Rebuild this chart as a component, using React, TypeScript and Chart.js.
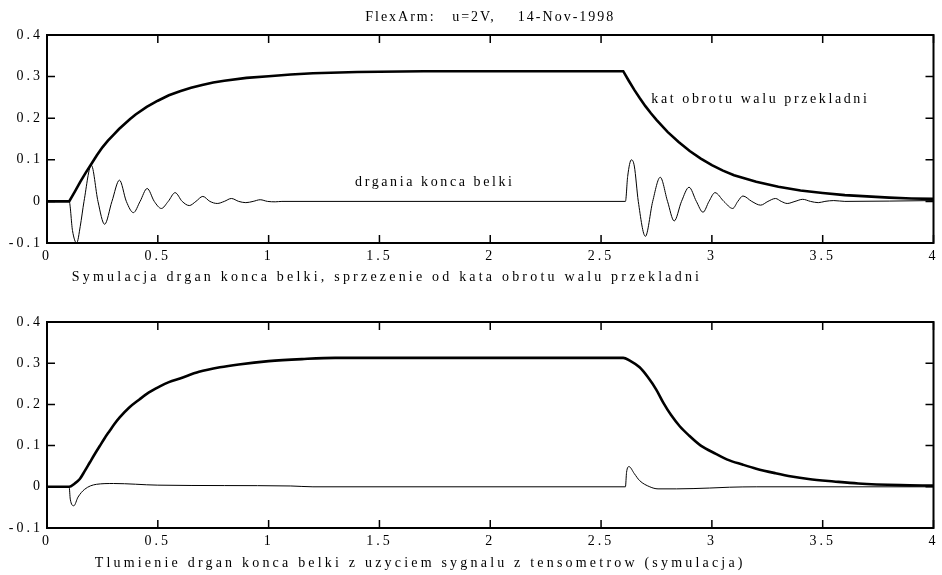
import React, { useEffect, useRef } from 'react';
import { Chart, registerables } from 'chart.js';

Chart.register(...registerables);

// ---- texts ----
const TITLE = 'FlexArm:   u=2V,    14-Nov-1998';
const X_TITLE_TOP = 'Symulacja drgan konca belki, sprzezenie od kata obrotu walu przekladni';
const X_TITLE_BOTTOM = 'Tlumienie drgan konca belki z uzyciem sygnalu z tensometrow (symulacja)';
const LABEL_ANGLE = 'kat obrotu walu przekladni';
const LABEL_VIB = 'drgania konca belki';

// ---- tick values ----
const X_TICKS = [0, 0.5, 1, 1.5, 2, 2.5, 3, 3.5, 4];
const Y_TICKS = [-0.1, 0, 0.1, 0.2, 0.3, 0.4];

// ---- top plot: shaft angle (thick) ----
const topAngleT = [0, 0.1, 0.125, 0.15, 0.175, 0.2, 0.225, 0.25, 0.275, 0.3, 0.325, 0.35, 0.375, 0.4, 0.45, 0.5, 0.55, 0.6, 0.65, 0.7, 0.75, 0.8, 0.9, 1.0, 1.1, 1.2, 1.4, 1.7, 2.6, 2.625, 2.65, 2.675, 2.7, 2.725, 2.75, 2.8, 2.85, 2.9, 2.95, 3.0, 3.05, 3.1, 3.2, 3.3, 3.4, 3.5, 3.6, 3.7, 3.8, 3.9, 4.0];
const topAngleV = [0, 0, 0.023, 0.047, 0.069, 0.09, 0.111, 0.13, 0.146, 0.16, 0.174, 0.186, 0.198, 0.209, 0.227, 0.242, 0.255, 0.265, 0.273, 0.28, 0.286, 0.29, 0.297, 0.301, 0.305, 0.308, 0.311, 0.313, 0.313, 0.29, 0.268, 0.248, 0.229, 0.212, 0.196, 0.167, 0.143, 0.121, 0.103, 0.087, 0.074, 0.063, 0.047, 0.035, 0.026, 0.02, 0.015, 0.012, 0.009, 0.007, 0.006];

// ---- top plot: beam tip vibration (thin) ----
const topVibT = [0, 0.1, 0.115, 0.134, 0.15, 0.167, 0.2, 0.23, 0.26, 0.293, 0.327, 0.358, 0.39, 0.42, 0.452, 0.484, 0.516, 0.547, 0.578, 0.61, 0.642, 0.672, 0.703, 0.735, 0.768, 0.8, 0.832, 0.865, 0.897, 0.93, 0.962, 0.995, 1.03, 1.06, 2.61, 2.62, 2.637, 2.65, 2.668, 2.7, 2.733, 2.767, 2.8, 2.83, 2.863, 2.897, 2.93, 2.96, 2.987, 3.014, 3.054, 3.094, 3.117, 3.14, 3.18, 3.22, 3.253, 3.287, 3.313, 3.34, 3.375, 3.41, 3.445, 3.48, 3.51, 3.55, 3.6, 4.0];
const topVibV = [0, 0, -0.07, -0.1, -0.06, 0, 0.087, 0, -0.055, 0, 0.051, 0, -0.027, 0, 0.031, 0, -0.017, 0, 0.021, 0, -0.01, 0, 0.012, 0, -0.005, 0, 0.007, 0, -0.003, 0, 0.004, 0, -0.001, 0, 0, 0.06, 0.1, 0.085, 0, -0.084, 0, 0.058, 0, -0.047, 0, 0.034, 0, -0.026, 0, 0.021, 0, -0.017, 0, 0.013, 0, -0.009, 0, 0.007, 0, -0.005, 0, 0.005, 0, -0.003, 0, 0.002, 0, 0.002];

// ---- bottom plot: shaft angle (thick) ----
const botAngleT = [0, 0.1, 0.125, 0.148, 0.17, 0.193, 0.215, 0.238, 0.26, 0.283, 0.305, 0.327, 0.37, 0.417, 0.46, 0.507, 0.55, 0.6, 0.686, 0.78, 0.865, 1.0, 1.15, 1.3, 2.6, 2.63, 2.674, 2.71, 2.749, 2.78, 2.816, 2.855, 2.898, 2.95, 3.018, 3.07, 3.138, 3.2, 3.287, 3.36, 3.436, 3.55, 3.66, 3.85, 4.0];
const botAngleV = [0, 0, 0.008, 0.019, 0.038, 0.059, 0.079, 0.099, 0.118, 0.136, 0.153, 0.168, 0.192, 0.212, 0.229, 0.243, 0.254, 0.263, 0.279, 0.29, 0.297, 0.305, 0.31, 0.313, 0.313, 0.306, 0.29, 0.267, 0.236, 0.205, 0.174, 0.147, 0.124, 0.1, 0.08, 0.066, 0.054, 0.044, 0.033, 0.025, 0.019, 0.013, 0.008, 0.004, 0.003];

// ---- bottom plot: damped beam tip vibration (thin) ----
const botVibT = [0, 0.1, 0.105, 0.121, 0.14, 0.17, 0.223, 0.3, 0.5, 0.8, 1.1, 1.2, 2.61, 2.615, 2.626, 2.65, 2.674, 2.72, 2.757, 2.84, 2.99, 3.08, 3.2, 4.0];
const botVibV = [0, 0, -0.03, -0.046, -0.025, -0.006, 0.006, 0.008, 0.004, 0.003, 0.002, 0, 0, 0.035, 0.049, 0.032, 0.015, 0, -0.005, -0.005, -0.003, -0.001, 0, 0];

const FONT_FAMILY = '"Liberation Serif", "Times New Roman", serif';
const FONT_SIZE = 14;

const toPoints = (t: number[], v: number[]) => t.map((x, i) => ({ x, y: v[i] }));

type Lbl = { text: string; x: number; y: number };
type AxisLbl = { text: string; x: number; dy: number; spacing: string };

function wrap(obj: any, name: string, spacing: string) {
  if (!obj || !obj[name] || obj[name].__wrapped) return;
  const orig = obj[name];
  const f = function (this: any, ...args: any[]) {
    const ctx = this.ctx as any;
    const prev = ctx.letterSpacing;
    ctx.letterSpacing = spacing;
    orig.apply(this, args);
    ctx.letterSpacing = prev || '0px';
  };
  (f as any).__wrapped = true;
  obj[name] = f;
}

const spacingPlugin = {
  id: 'spacing',
  beforeDraw(chart: any) {
    wrap(chart.scales.x, 'drawLabels', '3px');
    wrap(chart.scales.y, 'drawLabels', '3px');
    if (chart.titleBlock) wrap(chart.titleBlock, 'draw', '2px');
  },
};

const framePlugin = {
  id: 'frame',
  afterDatasetsDraw(chart: any) {
    const { ctx, chartArea: a, scales } = chart;
    const x = scales.x;
    const y = scales.y;
    const tl = 8;
    ctx.save();
    ctx.strokeStyle = '#000';
    ctx.lineWidth = 1.5;
    ctx.beginPath();
    for (const v of X_TICKS) {
      const px = x.getPixelForValue(v);
      ctx.moveTo(px, a.bottom);
      ctx.lineTo(px, a.bottom - tl);
      ctx.moveTo(px, a.top);
      ctx.lineTo(px, a.top + tl);
    }
    for (const v of Y_TICKS) {
      const py = y.getPixelForValue(v);
      ctx.moveTo(a.left, py);
      ctx.lineTo(a.left + tl, py);
      ctx.moveTo(a.right, py);
      ctx.lineTo(a.right - tl, py);
    }
    ctx.stroke();
    ctx.lineWidth = 2;
    ctx.strokeRect(a.left, a.top, a.right - a.left, a.bottom - a.top);

    const opts = chart.options.plugins.frame || {};
    ctx.fillStyle = '#000';
    ctx.font = `${FONT_SIZE}px ${FONT_FAMILY}`;
    ctx.textAlign = 'left';
    ctx.textBaseline = 'middle';
    ctx.letterSpacing = '2.6px';
    for (const l of (opts.labels || []) as Lbl[]) {
      ctx.fillText(l.text, x.getPixelForValue(l.x), y.getPixelForValue(l.y));
    }
    ctx.restore();
  },
  afterDraw(chart: any) {
    const { ctx, chartArea: a, scales } = chart;
    const opts = chart.options.plugins.frame || {};
    const xl: AxisLbl | undefined = opts.xLabel;
    if (!xl) return;
    ctx.save();
    ctx.fillStyle = '#000';
    ctx.font = `${FONT_SIZE}px ${FONT_FAMILY}`;
    ctx.letterSpacing = xl.spacing;
    ctx.textAlign = 'left';
    ctx.textBaseline = 'middle';
    ctx.fillText(xl.text, scales.x.getPixelForValue(xl.x), a.bottom + xl.dy);
    ctx.restore();
  },
};

type PlotProps = {
  width: number;
  height: number;
  top: number;
  title?: string;
  xLabel: AxisLbl;
  padTop: number;
  angle: { x: number; y: number }[];
  angleSmooth: boolean;
  vib: { x: number; y: number }[];
  labels: Lbl[];
};

function Plot(p: PlotProps) {
  const ref = useRef<HTMLCanvasElement | null>(null);
  useEffect(() => {
    if (!ref.current) return;
    const font = { family: FONT_FAMILY, size: FONT_SIZE };
    const angleDs: any = {
      data: p.angle,
      borderColor: '#000',
      borderWidth: 2.6,
      pointRadius: 0,
      fill: false,
    };
    if (p.angleSmooth) angleDs.cubicInterpolationMode = 'monotone';
    else angleDs.tension = 0;
    const chart = new Chart(ref.current, {
      type: 'line',
      data: {
        datasets: [
          angleDs,
          {
            data: p.vib,
            borderColor: '#000',
            borderWidth: 1,
            pointRadius: 0,
            cubicInterpolationMode: 'monotone',
            fill: false,
          },
        ],
      },
      options: {
        responsive: false,
        animation: false,
        devicePixelRatio: 1,
        layout: { padding: { left: 0, right: 3, top: p.padTop, bottom: 0 } },
        plugins: {
          legend: { display: false },
          tooltip: { enabled: false },
          title: {
            display: !!p.title,
            text: p.title || '',
            color: '#000',
            fullSize: false,
            font: { family: FONT_FAMILY, size: FONT_SIZE, weight: 'normal' },
            padding: { top: 9, bottom: 9.2 },
          },
          frame: { labels: p.labels, xLabel: p.xLabel },
        } as any,
        scales: {
          x: {
            type: 'linear',
            min: 0,
            max: 4,
            afterBuildTicks: (s: any) => {
              s.ticks = X_TICKS.map((value) => ({ value }));
            },
            afterFit: (s: any) => {
              s.height = 47;
            },
            grid: { display: false, drawTicks: false },
            border: { display: false },
            ticks: {
              padding: 5,
              color: '#000',
              font,
              maxRotation: 0,
              autoSkip: false,
              callback: (v: any) => String(v),
            },
          },
          y: {
            type: 'linear',
            min: -0.1,
            max: 0.4,
            afterBuildTicks: (s: any) => {
              s.ticks = Y_TICKS.map((value) => ({ value }));
            },
            afterFit: (s: any) => {
              s.width = 47;
            },
            grid: { display: false, drawTicks: false },
            border: { display: false },
            ticks: {
              padding: 4,
              color: '#000',
              font,
              autoSkip: false,
              callback: (v: any) => String(Math.round(v * 10) / 10),
            },
          },
        },
      } as any,
      plugins: [spacingPlugin, framePlugin],
    });
    return () => chart.destroy();
  }, []);
  return (
    <canvas
      ref={ref}
      width={p.width}
      height={p.height}
      style={{ position: 'absolute', left: 0, top: p.top, display: 'block' }}
    />
  );
}

export default function App() {
  return (
    <div style={{ position: 'absolute', left: 0, top: 0, width: 942, height: 575, background: '#fff' }}>
      <Plot
        width={942}
        height={290}
        top={0}
        title={TITLE}
        xLabel={{ text: X_TITLE_TOP, x: 0.112, dy: 34, spacing: '3.2px' }}
        padTop={0}
        angle={toPoints(topAngleT, topAngleV)}
        angleSmooth={false}
        vib={toPoints(topVibT, topVibV)}
        labels={[
          { text: LABEL_ANGLE, x: 2.727, y: 0.246 },
          { text: LABEL_VIB, x: 1.39, y: 0.045 },
        ]}
      />
      <Plot
        width={942}
        height={285}
        top={290}
        xLabel={{ text: X_TITLE_BOTTOM, x: 0.215, dy: 35, spacing: '3.2px' }}
        padTop={32}
        angle={toPoints(botAngleT, botAngleV)}
        angleSmooth={true}
        vib={toPoints(botVibT, botVibV)}
        labels={[]}
      />
    </div>
  );
}
